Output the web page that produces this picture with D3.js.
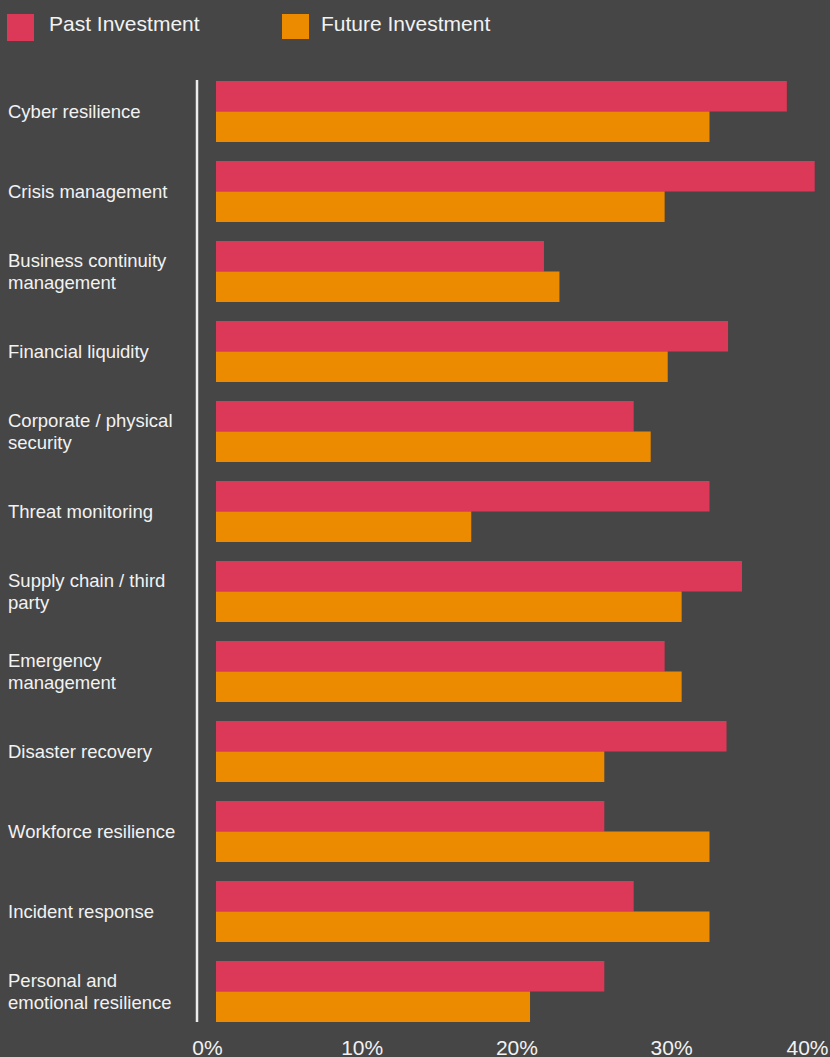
<!DOCTYPE html>
<html>
<head>
<meta charset="utf-8">
<script src="https://cdn.jsdelivr.net/npm/d3@7"></script>
<style>
  html, body { margin: 0; padding: 0; background: #464646; }
  svg { display: block; font-family: "Liberation Sans", Arial, Helvetica, sans-serif; }
</style>
</head>
<body>
<div id="chart"></div>
<script>
var categories = [
    "Cyber resilience",
    "Crisis management",
    "Business continuity\nmanagement",
    "Financial liquidity",
    "Corporate / physical\nsecurity",
    "Threat monitoring",
    "Supply chain / third\nparty",
    "Emergency\nmanagement",
    "Disaster recovery",
    "Workforce resilience",
    "Incident response",
    "Personal and\nemotional resilience"
];

var series = ["Past Investment", "Future Investment"];

var pastValues   = [36.9, 38.7, 21.2, 33.1, 27.0, 31.9, 34.0, 29.0, 33.0, 25.1, 27.0, 25.1];
var futureValues = [31.9, 29.0, 22.2, 29.2, 28.1, 16.5, 30.1, 30.1, 25.1, 31.9, 31.9, 20.3];

var tickValues = [0, 10, 20, 30, 40];

var colors = ["#db3957", "#ec8b00"];

var width = 830,
    height = 1057;

var svg = d3.select("#chart")
    .append("svg")
        .attr("width", width)
        .attr("height", height);

svg.append("rect")
    .attr("width", width)
    .attr("height", height)
    .attr("fill", "#464646");

var x = d3.scaleLinear()
    .domain([0, 40])
    .range([216, 834.8]);

var y = d3.scaleBand()
    .domain(categories)
    .range([71.5, 1031.5])
    .paddingInner(0.2375)
    .paddingOuter(0.11875);

var ySub = d3.scaleBand()
    .domain(series)
    .range([0, y.bandwidth()]);

var rows = categories.map(function(c, i) {
    return {cat: c, vals: [pastValues[i], futureValues[i]]};
});

// bars
var groups = svg.selectAll(".group")
    .data(rows)
    .enter().append("g")
        .attr("class", "group")
        .attr("transform", function(d) { return "translate(0," + y(d.cat) + ")"; });

groups.selectAll("rect")
    .data(function(d) { return d.vals.map(function(v, j) { return {s: series[j], v: v, j: j}; }); })
    .enter().append("rect")
        .attr("x", x(0))
        .attr("y", function(d) { return ySub(d.s); })
        .attr("height", ySub.bandwidth())
        .attr("width", function(d) { return x(d.v) - x(0); })
        .attr("fill", function(d) { return colors[d.j]; });

// category labels
groups.append("text")
    .attr("fill", "#f2f2f2")
    .style("font-size", "18.5px")
    .each(function(d) {
        var lines = d.cat.split("\n");
        var mid = y.bandwidth() / 2;
        var t = d3.select(this);
        lines.forEach(function(line, k) {
            t.append("tspan")
                .attr("x", 8)
                .attr("y", mid + 6.6 + (k - (lines.length - 1) / 2) * 22)
                .text(line);
        });
    });

// vertical axis line
svg.append("line")
    .attr("x1", 197).attr("x2", 197)
    .attr("y1", y.range()[0] + 8.5)
    .attr("y2", y.range()[1] - 9.5)
    .attr("stroke", "#ececec")
    .attr("stroke-width", 2.5);

// x axis labels
var xAxis = svg.append("g")
    .attr("class", "x-axis")
    .attr("transform", "translate(-9,1055)")
    .call(d3.axisBottom(x)
        .tickValues(tickValues)
        .tickSize(0)
        .tickPadding(0)
        .tickFormat(function(d) { return d + "%"; }));

xAxis.select(".domain").remove();
xAxis.selectAll("text")
    .attr("dy", 0)
    .attr("y", 0)
    .attr("fill", "#f2f2f2")
    .style("font-size", "21px")
    .style("font-family", "'Liberation Sans', Arial, Helvetica, sans-serif");

xAxis.selectAll(".tick").filter(function(d) { return d === 40; })
    .select("text")
        .attr("text-anchor", "end")
        .attr("x", 828 - x(40) + 9);

// legend
var legend = svg.selectAll(".legend")
    .data(series)
    .enter().append("g")
        .attr("class", "legend")
        .attr("transform", function(d, i) { return "translate(" + [7, 282][i] + ",14)"; });

legend.append("rect")
    .attr("width", 27)
    .attr("height", function(d, i) { return i === 0 ? 27 : 25; })
    .attr("fill", function(d, i) { return colors[i]; });

legend.append("text")
    .attr("x", function(d, i) { return i === 0 ? 42 : 39; })
    .attr("y", 17)
    .attr("fill", "#f2f2f2")
    .style("font-size", "21px")
    .text(function(d) { return d; });
</script>
</body>
</html>
